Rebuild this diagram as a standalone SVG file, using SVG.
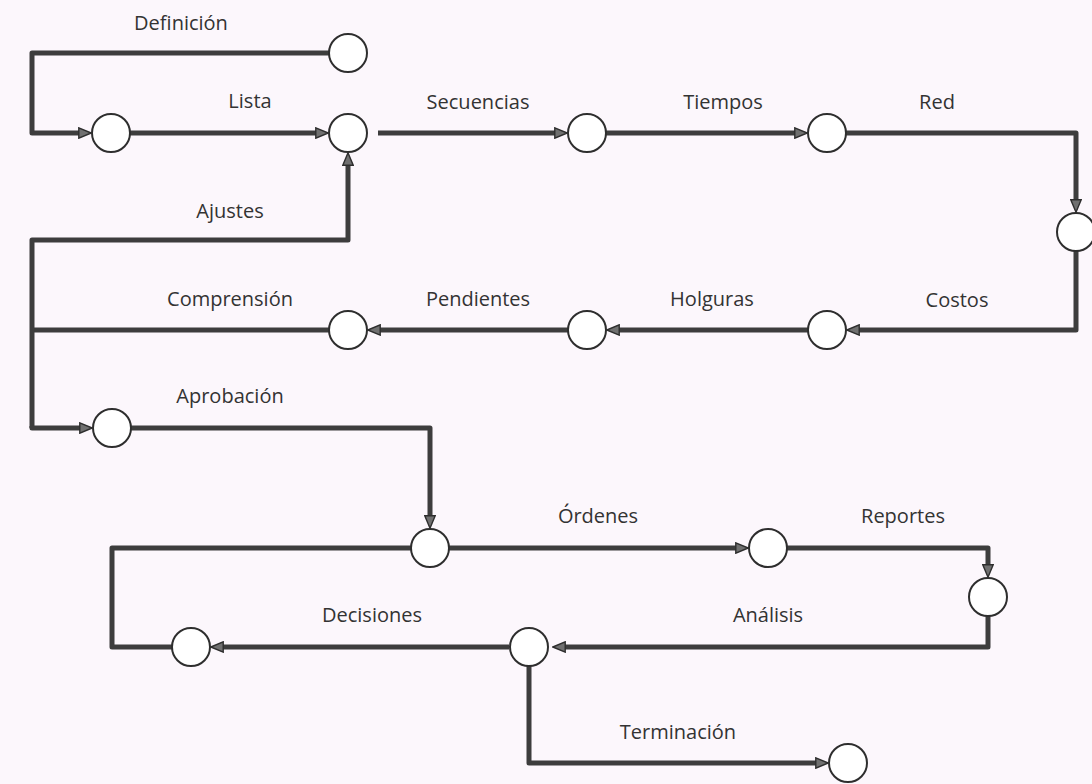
<svg xmlns="http://www.w3.org/2000/svg" width="1092" height="784" viewBox="0 0 1092 784">
  <style>
    .bg { fill: #fcf7fc; }
    .wire { fill: none; stroke: #3d3d3d; stroke-width: 5; stroke-linejoin: round; stroke-linecap: butt; }
    .node { fill: #ffffff; stroke: #2e2e2e; stroke-width: 2; }
    .lbl { font-family: "Open Sans", "Noto Sans", sans-serif; font-size: 20px; fill: #333333; text-anchor: middle; }
  </style>
  <defs>
    <marker id="head" viewBox="0 0 14 12" markerWidth="14" markerHeight="12" refX="8" refY="6" orient="auto" markerUnits="userSpaceOnUse">
      <path d="M0.8,0.8 L13.2,6 L0.8,11.2 Z" fill="#707070" stroke="#2e2e2e" stroke-width="1.4" stroke-linejoin="miter"/>
    </marker>
  </defs>

  <rect class="bg" x="0" y="0" width="1092" height="784"/>

  <!-- connectors -->
  <g id="connectors">
    <path class="wire" d="M329 53 H32 V133 H86" marker-end="url(#head)"/>
    <path class="wire" d="M130 133 H323" marker-end="url(#head)"/>
    <path class="wire" d="M378 133 H562" marker-end="url(#head)"/>
    <path class="wire" d="M606 133 H802" marker-end="url(#head)"/>
    <path class="wire" d="M846 133 H1076 V207" marker-end="url(#head)"/>
    <path class="wire" d="M1076 251 V330 H852" marker-end="url(#head)"/>
    <path class="wire" d="M808 330 H612" marker-end="url(#head)"/>
    <path class="wire" d="M568 330 H373" marker-end="url(#head)"/>
    <path class="wire" d="M329 330 H32"/>
    <path class="wire" d="M32 428 V240 H348 V158" marker-end="url(#head)"/>
    <path class="wire" d="M32 426 V428 H87" marker-end="url(#head)"/>
    <path class="wire" d="M131 428 H430 V523" marker-end="url(#head)"/>
    <path class="wire" d="M449 548 H743" marker-end="url(#head)"/>
    <path class="wire" d="M787 548 H988 V572" marker-end="url(#head)"/>
    <path class="wire" d="M988 616 V647 H558" marker-end="url(#head)"/>
    <path class="wire" d="M509 647 H216" marker-end="url(#head)"/>
    <path class="wire" d="M172 647 H112 V548 H411"/>
    <path class="wire" d="M529 666 V763 H823" marker-end="url(#head)"/>
  </g>

  <!-- event nodes -->
  <g id="n-definicion"><circle class="node" cx="348" cy="53" r="19"/></g>
  <g id="n-inicio"><circle class="node" cx="111" cy="133" r="19"/></g>
  <g id="n-lista"><circle class="node" cx="348" cy="133" r="19"/></g>
  <g id="n-secuencias"><circle class="node" cx="587" cy="133" r="19"/></g>
  <g id="n-tiempos"><circle class="node" cx="827" cy="133" r="19"/></g>
  <g id="n-red"><circle class="node" cx="1076" cy="232" r="19"/></g>
  <g id="n-costos"><circle class="node" cx="827" cy="330" r="19"/></g>
  <g id="n-holguras"><circle class="node" cx="587" cy="330" r="19"/></g>
  <g id="n-pendientes"><circle class="node" cx="348" cy="330" r="19"/></g>
  <g id="n-aprobacion"><circle class="node" cx="112" cy="428" r="19"/></g>
  <g id="n-ejecucion"><circle class="node" cx="430" cy="548" r="19"/></g>
  <g id="n-ordenes"><circle class="node" cx="768" cy="548" r="19"/></g>
  <g id="n-reportes"><circle class="node" cx="988" cy="597" r="19"/></g>
  <g id="n-analisis"><circle class="node" cx="529" cy="647" r="19"/></g>
  <g id="n-decisiones"><circle class="node" cx="191" cy="647" r="19"/></g>
  <g id="n-terminacion"><circle class="node" cx="848" cy="763" r="19"/></g>

  <!-- activity labels -->
  <g id="labels">
    <text class="lbl" x="181" y="30">Definición</text>
    <text class="lbl" x="250" y="108">Lista</text>
    <text class="lbl" x="478" y="109">Secuencias</text>
    <text class="lbl" x="723" y="109">Tiempos</text>
    <text class="lbl" x="937" y="109">Red</text>
    <text class="lbl" x="230" y="218">Ajustes</text>
    <text class="lbl" x="230" y="306">Comprensión</text>
    <text class="lbl" x="478" y="306">Pendientes</text>
    <text class="lbl" x="712" y="306">Holguras</text>
    <text class="lbl" x="957" y="307">Costos</text>
    <text class="lbl" x="230" y="403">Aprobación</text>
    <text class="lbl" x="598" y="523">Órdenes</text>
    <text class="lbl" x="903" y="523">Reportes</text>
    <text class="lbl" x="372" y="622">Decisiones</text>
    <text class="lbl" x="768" y="622">Análisis</text>
    <text class="lbl" x="678" y="739">Terminación</text>
  </g>
</svg>
